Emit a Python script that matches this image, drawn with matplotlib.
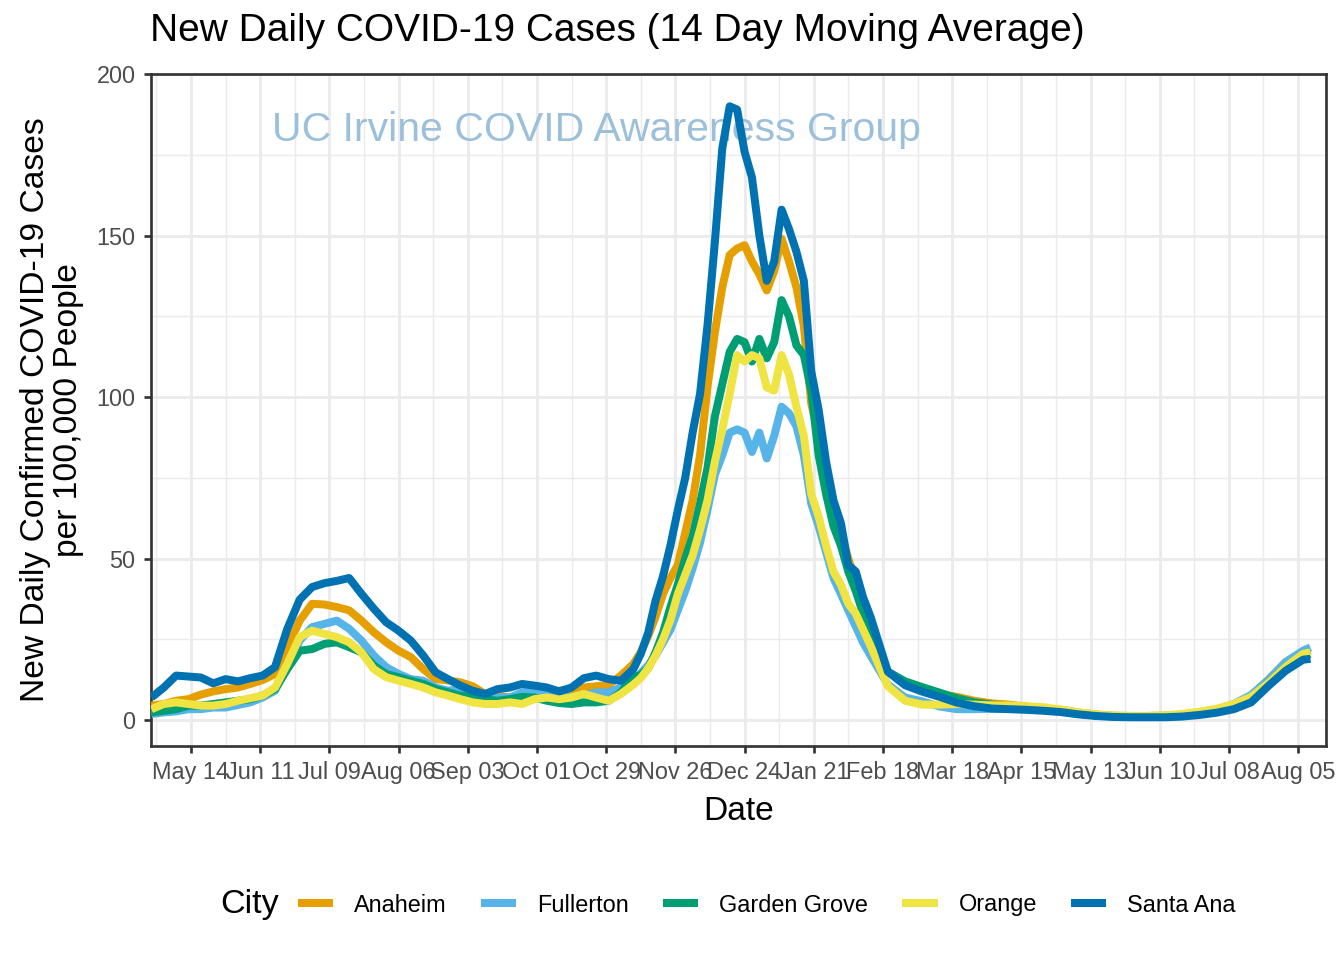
import matplotlib
matplotlib.use("Agg")
import matplotlib.pyplot as plt
import pandas as pd

plt.rcParams['font.family'] = ['Liberation Sans', 'DejaVu Sans']

# sampling dates (denser around the winter peak)
dates = (list(pd.date_range('2020-04-28', periods=40, freq='5D'))
         + list(pd.date_range('2020-11-12', periods=32, freq='3D'))
         + list(pd.date_range('2021-02-20', periods=25, freq='7D'))
         + [pd.Timestamp('2021-08-10')])

# new daily cases per 100,000 (14 day moving average)
anaheim = [4.5, 5.0, 6.0, 6.5, 7.9, 8.9, 9.6, 10.1, 11.2, 12.4,
           14.3, 22.6, 30.8, 36.0, 35.8, 35.0, 34.0, 30.8, 27.2, 24.1,
           21.5, 19.5, 15.8, 12.7, 12.3, 11.7, 10.5, 8.1, 7.6, 7.0,
           7.9, 7.9, 8.6, 9.1, 9.6, 10.1, 10.5, 10.9, 13.8, 17.4,
           21, 26, 32, 39, 44, 48, 58, 68, 82, 103,
           120, 134, 144, 146, 147, 142, 138, 133, 139, 149,
           142, 134, 122, 98, 88, 77, 66, 58, 50, 43,
           36, 28,
           15, 11.5, 9.5, 8.0, 7.2, 6.0, 5.2, 4.8, 4.2, 3.7,
           3.2, 2.4, 1.8, 1.4, 1.3, 1.3, 1.4, 1.6, 2.3, 3.1,
           4.6, 7.5, 12.5, 18.0, 21.0, 21.5]
fullerton = [1.9, 2.4, 2.7, 3.4, 3.4, 3.9, 3.9, 4.7, 5.5, 7.0,
             9.1, 16.4, 24.6, 28.8, 29.8, 30.8, 28.3, 24.6, 20.0, 16.4,
             14.3, 12.7, 12.2, 10.1, 9.1, 9.6, 8.6, 7.9, 7.0, 7.0,
             8.6, 9.3, 8.1, 7.6, 7.0, 7.6, 8.6, 8.6, 10.1, 12.5,
             14.5, 17, 20, 24, 28, 34, 40, 47, 55, 65,
             76, 82, 89, 90, 89, 83, 89, 81, 88, 97,
             95, 91, 82, 67, 60, 52, 44, 39, 34, 29,
             24, 20,
             11, 7, 5.8, 4.2, 3.4, 3.4, 3.5, 3.6, 3.5, 3.2,
             2.7, 2.0, 1.5, 1.2, 1.1, 1.1, 1.3, 1.7, 2.4, 3.3,
             5.0, 7.8, 12.5, 18.0, 21.5, 22.5]
garden_grove = [2.4, 2.9, 3.4, 4.5, 4.5, 5.0, 5.5, 6.0, 6.5, 7.6,
                9.6, 15.8, 21.5, 22.0, 23.6, 24.1, 22.6, 21.0, 16.9, 14.3,
                13.3, 12.2, 11.2, 9.6, 8.6, 7.6, 7.0, 6.5, 6.0, 6.5,
                7.2, 7.0, 6.0, 5.3, 5.0, 5.5, 5.5, 6.0, 8.6, 13.3,
                14, 16, 21, 27, 35, 42, 50, 57, 67, 78,
                94, 104, 114, 118, 117, 111, 118, 112, 117, 130,
                125, 116, 113, 102, 82, 70, 60, 54, 46, 40,
                33, 26,
                15, 12, 10.2, 8.5, 6.8, 5.5, 4.8, 4.2, 3.8, 3.3,
                2.8, 2.0, 1.5, 1.2, 1.1, 1.1, 1.2, 1.4, 2.0, 2.8,
                4.2, 6.8, 11.5, 16.5, 20.0, 20.5]
orange = [3.4, 5.0, 5.5, 5.0, 4.5, 4.5, 5.0, 6.0, 6.8, 7.6,
          10.1, 17.4, 25.7, 27.7, 26.7, 25.7, 24.1, 21.0, 15.8, 13.3,
          12.2, 11.2, 10.1, 8.6, 7.6, 6.5, 5.5, 5.0, 5.0, 5.5,
          5.0, 6.5, 7.0, 6.5, 7.0, 8.1, 7.0, 6.0, 8.1, 11.0,
          13, 16, 20, 25, 31, 39, 45, 51, 59, 68,
          80, 90, 101, 113, 111, 113, 112, 103, 102, 113,
          107, 97, 88, 70, 63, 54, 46, 42, 36, 33,
          28, 23,
          10.5, 6.0, 4.8, 4.8, 5.0, 4.8, 4.6, 4.5, 4.3, 4.0,
          3.3, 2.4, 1.8, 1.4, 1.3, 1.3, 1.5, 1.9, 2.6, 3.5,
          5.0, 7.2, 11.5, 16.5, 20.5, 21.0]
santa_ana = [7.0, 10.1, 13.8, 13.5, 13.2, 11.4, 12.7, 12.0, 13.0, 13.8,
             16.4, 28.3, 37.3, 41.2, 42.4, 43.1, 44.0, 39.1, 34.5, 30.3,
             27.7, 24.6, 20.0, 14.8, 12.7, 10.7, 9.1, 8.1, 9.6, 10.1,
             11.2, 10.7, 10.1, 8.9, 10.1, 13.0, 13.8, 12.7, 12.2, 15.8,
             20.5, 27, 37, 44.5, 54, 65, 75, 89, 101, 122,
             148, 177, 190, 189, 176, 168, 150, 136, 142, 158,
             152, 145, 136, 108, 96, 80, 68, 61, 48, 46,
             38, 32,
             15, 10.8, 8.8, 7.2, 5.4, 4.3, 3.6, 3.4, 3.2, 2.9,
             2.5, 1.8, 1.3, 1.0, 0.9, 0.9, 0.9, 1.1, 1.6, 2.3,
             3.4, 5.5, 10.6, 15.3, 18.7, 19.0]

cities = ['Anaheim', 'Fullerton', 'Garden Grove', 'Orange', 'Santa Ana']
series = [anaheim, fullerton, garden_grove, orange, santa_ana]
colors = ['#E69F00', '#56B4E9', '#009E73', '#F0E442', '#0072B2']

fig = plt.figure(figsize=(7, 5), dpi=192)
ax = fig.add_axes([151/1344, 1 - 746/960, 1175/1344, 672/960])

for name, vals, col in zip(cities, series, colors):
    ax.plot(dates, vals, color=col, lw=3, label=name,
            solid_capstyle='butt', solid_joinstyle='round', zorder=3)

ax.text(0.379, 0.917, 'UC Irvine COVID Awareness Group', transform=ax.transAxes,
        ha='center', va='center', fontsize=15.4, color='#9CC0DA', zorder=2)

major = pd.date_range('2020-05-14', '2021-08-05', freq='28D')
minor = pd.date_range('2020-04-30', '2021-08-19', freq='14D')
ax.set_xticks(major)
ax.set_xticklabels([d.strftime('%b %d') for d in major])
ax.set_xticks(minor, minor=True)
ax.set_yticks([0, 50, 100, 150, 200])
ax.set_yticks([25, 75, 125, 175], minor=True)
ax.set_xlim(pd.Timestamp('2020-04-27 20:00'), pd.Timestamp('2021-08-16 07:00'))
ax.set_ylim(-8, 200)

ax.grid(which='major', color='#EBEBEB', lw=1.07)
ax.grid(which='minor', color='#EBEBEB', lw=0.53)
ax.set_axisbelow(True)
ax.tick_params(which='minor', length=0)
ax.tick_params(which='major', length=2.6, width=1.0, color='#333333',
               labelsize=8.8, labelcolor='#4D4D4D', pad=3.2)
for s in ax.spines.values():
    s.set_color('#333333')
    s.set_linewidth(1.0)

ax.set_xlabel('Date', fontsize=12.6)
ax.xaxis.set_label_coords(0.5, -0.074)
ax.set_ylabel('New Daily Confirmed COVID-19 Cases\nper 100,000 People', fontsize=12.6,
              linespacing=1.1)
ax.yaxis.set_label_coords(-0.057, 0.5)

fig.text(150/1344, 1 - 31/960, 'New Daily COVID-19 Cases (14 Day Moving Average)',
         fontsize=14.6, ha='left', va='center')

handles, labels = ax.get_legend_handles_labels()
fig.legend(handles, labels, ncol=5, loc='center',
           bbox_to_anchor=(767/1344, 1 - 905/960), frameon=False, fontsize=8.8,
           handlelength=1.5, handletextpad=0.9, columnspacing=1.45)
fig.text(220/1344, 1 - 905/960, 'City', fontsize=12.8, ha='left', va='center')

fig.savefig('out.png', dpi=192, facecolor='white')
